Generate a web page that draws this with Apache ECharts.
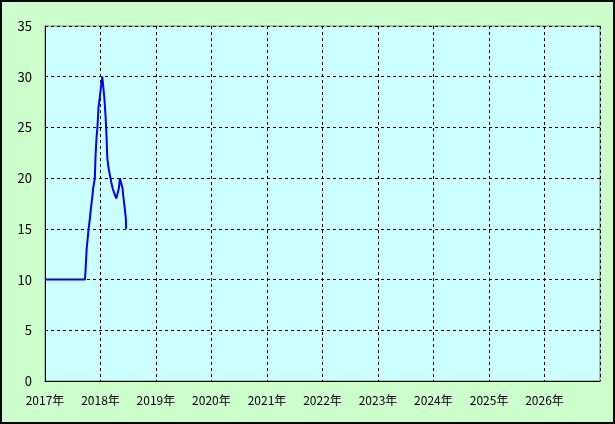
<!DOCTYPE html>
<html>
<head>
<meta charset="utf-8">
<script src="https://cdn.jsdelivr.net/npm/echarts@6/dist/echarts.min.js"></script>
<style>
  html, body { margin: 0; padding: 0; background: #fff; }
  #main { width: 615px; height: 424px; }
</style>
</head>
<body>
<div id="main"></div>
<script>
  // dates of the readings and the values
  var dates = [
    '2017-01-01', '2017-09-21', '2017-09-25', '2017-10-02', '2017-10-15',
    '2017-10-23', '2017-10-30', '2017-11-07', '2017-11-14', '2017-11-25',
    '2017-11-29', '2017-12-06', '2017-12-12', '2017-12-19', '2017-12-28',
    '2018-01-04', '2018-01-13', '2018-01-19', '2018-01-26', '2018-02-04',
    '2018-02-10', '2018-02-15', '2018-02-23', '2018-03-04', '2018-03-13',
    '2018-03-22', '2018-03-31', '2018-04-15', '2018-04-24', '2018-05-02',
    '2018-05-09', '2018-05-20', '2018-05-26', '2018-06-02', '2018-06-10',
    '2018-06-17', '2018-06-19'
  ];
  var values = [
    10, 10, 11, 13, 15,
    16, 17, 18, 19, 20,
    22, 24, 25, 27, 28,
    29, 30, 30, 28, 26,
    24, 22, 21, 20.3, 19.6,
    19, 18.6, 18, 18.5, 19,
    20, 20, 19, 18, 17,
    16, 15
  ];
  var xMin = '2017-01-01';
  var xMax = '2027-01-01';
  var yTicks = [0, 35, 5]; // min, max, interval

  var data = [];
  for (var i = 0; i < dates.length; i++) {
    data.push([dates[i], values[i]]);
  }

  var yearMs = 365 * 24 * 3600 * 1000;
  var chart = echarts.init(document.getElementById('main'));
  chart.setOption({
    animation: false,
    backgroundColor: '#ccffcc',
    textStyle: { fontFamily: '"Noto Sans CJK JP", sans-serif' },
    graphic: [{
      type: 'rect',
      shape: { x: 1, y: 1, width: 613, height: 422 },
      style: { fill: 'none', stroke: '#000', lineWidth: 2 },
      z: 100
    }],
    grid: {
      left: 45, top: 26, right: 15, bottom: 43,
      show: true,
      backgroundColor: '#ccffff',
      borderColor: '#808080',
      borderWidth: 1
    },
    xAxis: {
      type: 'time',
      min: xMin,
      max: xMax,
      minInterval: yearMs,
      maxInterval: yearMs + 2 * 24 * 3600 * 1000,
      axisLine: { show: true, lineStyle: { color: '#000', width: 1 } },
      axisTick: { show: false },
      axisLabel: {
        color: '#000',
        fontSize: 12,
        margin: 13,
        showMaxLabel: false,
        formatter: function (v) { return new Date(v).getFullYear() + '年'; }
      },
      splitLine: { show: true, lineStyle: { color: '#000', type: [3, 3], width: 1 } }
    },
    yAxis: {
      type: 'value',
      min: yTicks[0],
      max: yTicks[1],
      interval: yTicks[2],
      axisLine: { show: true, lineStyle: { color: '#000', width: 1 } },
      axisTick: { show: false },
      axisLabel: { color: '#000', fontSize: 13, margin: 13 },
      splitLine: { show: true, lineStyle: { color: '#000', type: [3, 3], width: 1 } }
    },
    series: [{
      type: 'line',
      data: data,
      symbol: 'none',
      lineStyle: { color: '#0000ff', width: 2 }
    }]
  });
</script>
</body>
</html>
